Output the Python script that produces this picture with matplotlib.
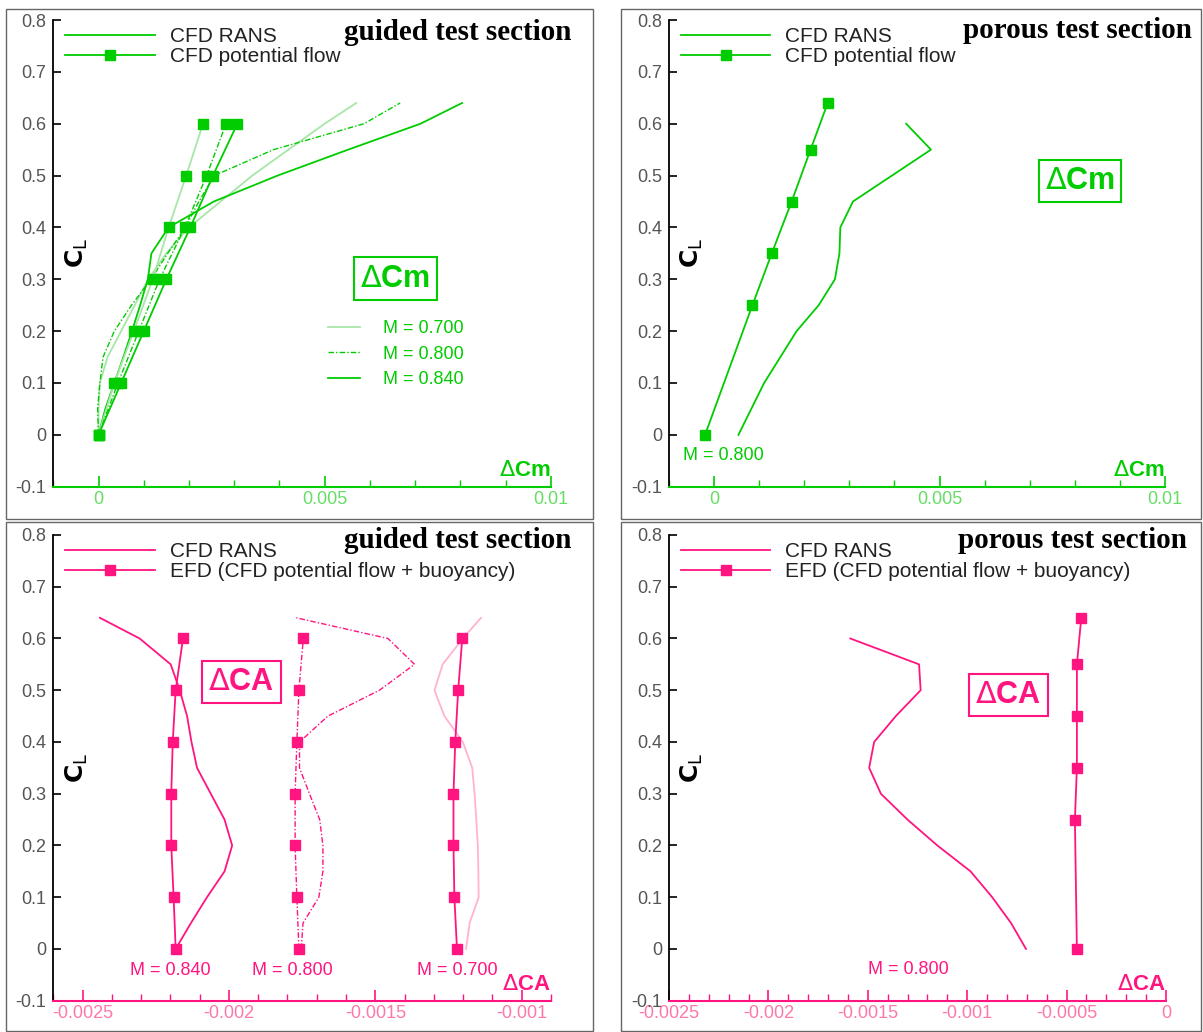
import matplotlib.pyplot as plt
from matplotlib.patches import Rectangle
from matplotlib.lines import Line2D
from matplotlib.ticker import MultipleLocator, FuncFormatter

plt.rcParams['font.family'] = ['Liberation Sans', 'DejaVu Sans']
plt.rcParams['mathtext.fontset'] = 'dejavusans'

GREEN = '#00cc00'
GREEN_LIGHT = '#a8e6a8'
PINK = '#ff1480'
PINK_LIGHT = '#ffb3d1'
DASHDOT = (0, (4, 1.5, 1, 1.5))

# --- guided test section, delta Cm ---
cl_pot = [0, 0.1, 0.2, 0.3, 0.4, 0.5, 0.6]
dcm_pot_070 = [0, 0.00035, 0.00078, 0.0012, 0.00155, 0.00194, 0.00231]
dcm_pot_080 = [0, 0.00043, 0.00089, 0.00135, 0.00191, 0.00239, 0.00282]
dcm_pot_084 = [0, 0.0005, 0.001, 0.0015, 0.00203, 0.00253, 0.00307]

cl_rans = [0, 0.05, 0.1, 0.15, 0.2, 0.25, 0.3, 0.35, 0.4, 0.45, 0.5, 0.55, 0.6, 0.64]
dcm_rans_070 = [0, 0, 0.00003, 0.0002, 0.0005, 0.0008, 0.0011, 0.0015, 0.002, 0.0027,
                0.0034, 0.0042, 0.005, 0.0057]
dcm_rans_080 = [0, -0.00002, 0.00003, 0.0001, 0.00035, 0.00073, 0.00116, 0.00153, 0.00192,
                0.00222, 0.00256, 0.00387, 0.00587, 0.00667]
dcm_rans_084 = [0, 0.00015, 0.00035, 0.00055, 0.00074, 0.00092, 0.00109, 0.00117, 0.00155,
                0.00255, 0.00396, 0.00552, 0.00712, 0.00804]

# --- porous test section, delta Cm (M = 0.800) ---
cl_pot_p = [0, 0.25, 0.35, 0.45, 0.55, 0.64]
dcm_pot_p = [-0.0002, 0.00085, 0.00128, 0.00172, 0.00214, 0.00252]
cl_rans_p = [0, 0.1, 0.2, 0.25, 0.3, 0.35, 0.4, 0.45, 0.55, 0.6]
dcm_rans_p = [0.00054, 0.00111, 0.00183, 0.00232, 0.00268, 0.00278, 0.0028, 0.00308,
              0.00481, 0.00426]

# --- guided test section, delta CA ---
dca_efd_084 = [-0.002182, -0.002189, -0.002197, -0.002197, -0.002192, -0.002182, -0.002157]
dca_efd_080 = [-0.001761, -0.001768, -0.001774, -0.001774, -0.001768, -0.001761, -0.001746]
dca_efd_070 = [-0.001221, -0.00123, -0.001233, -0.001233, -0.001227, -0.001217, -0.001203]
dca_rans_084 = [-0.002182, -0.00213, -0.002075, -0.002015, -0.001989, -0.002015, -0.002062,
                -0.002109, -0.002128, -0.002143, -0.002168, -0.002199, -0.002305, -0.002441]
dca_rans_080 = [-0.001753, -0.001747, -0.001693, -0.001679, -0.001679, -0.00169, -0.001725,
                -0.001759, -0.001759, -0.001662, -0.001486, -0.001366, -0.001457, -0.00177]
dca_rans_070 = [-0.00119, -0.001178, -0.001147, -0.001148, -0.00115, -0.001155, -0.001161,
                -0.001169, -0.001201, -0.001264, -0.001298, -0.00127, -0.001201, -0.001139]

# --- porous test section, delta CA (M = 0.800) ---
dca_efd_p = [-0.000448, -0.000458, -0.000448, -0.000448, -0.000448, -0.000426]
cl_rans_pa = [0, 0.05, 0.1, 0.15, 0.2, 0.25, 0.3, 0.35, 0.4, 0.45, 0.5, 0.55, 0.6]
dca_rans_p = [-0.000704, -0.000779, -0.000874, -0.000983, -0.00115, -0.0013, -0.001434,
              -0.001493, -0.001468, -0.001359, -0.001234, -0.001242, -0.001588]


def fmt(v, pos):
    return f'{round(v, 6) + 0:g}'


def setup(ax, xlim, major, minor, color, labelcolor, xlabel):
    ax.set_xlim(xlim)
    ax.set_ylim(-0.1, 0.8)
    ax.spines['top'].set_visible(False)
    ax.spines['right'].set_visible(False)
    ax.spines['left'].set_color('black')
    ax.spines['left'].set_linewidth(1.3)
    ax.spines['bottom'].set_color(color)
    ax.spines['bottom'].set_linewidth(1.5)
    ax.yaxis.set_major_locator(MultipleLocator(0.1))
    ax.xaxis.set_major_locator(MultipleLocator(major))
    ax.xaxis.set_minor_locator(MultipleLocator(minor))
    ax.xaxis.set_major_formatter(FuncFormatter(fmt))
    ax.yaxis.set_major_formatter(FuncFormatter(fmt))
    ax.tick_params(axis='y', direction='in', length=6, width=1.2, color='black',
                   labelcolor='#555555', labelsize=13, pad=5)
    ax.tick_params(axis='x', which='major', direction='in', length=8, width=1.2,
                   color=color, labelcolor=labelcolor, labelsize=13, pad=3)
    ax.tick_params(axis='x', which='minor', direction='in', length=5, width=1, color=color)
    ax.text(1.0, 0.012, xlabel, transform=ax.transAxes, ha='right', va='bottom',
            color=color, fontsize=16, fontweight='bold')
    ax.text(0.047, 0.5, r'$\mathbf{C}_{\mathsf{L}}$', transform=ax.transAxes, rotation=90,
            ha='center', va='center', fontsize=18, color='black')


def box_label(ax, x, y, s, color):
    ax.text(x, y, s, transform=ax.transAxes, ha='center', va='center', color=color,
            fontsize=22, fontweight='bold',
            bbox=dict(boxstyle='square,pad=0.2', fc='white', ec=color, lw=1.5))


def main_legend(ax, color, labels):
    handles = [Line2D([], [], color=color, lw=1.3),
               Line2D([], [], color=color, lw=1.3, marker='s', ms=7.5)]
    leg = ax.legend(handles, labels, loc='upper left', bbox_to_anchor=(0.024, 0.985),
                    frameon=False, fontsize=15, handlelength=4.3, handletextpad=0.72,
                    labelspacing=0.05, borderpad=0, numpoints=1, borderaxespad=0)
    for t in leg.get_texts():
        t.set_color('#222222')
    return leg


fig = plt.figure(figsize=(12.03, 10.32), dpi=100)

# panel frames
for x0, y0, w, h in [(6, 9, 587, 510), (621, 9, 580, 510), (6, 522, 587, 509), (621, 522, 580, 509)]:
    fig.add_artist(Rectangle((x0 / 1203, 1 - (y0 + h) / 1032), w / 1203, h / 1032,
                             transform=fig.transFigure, fill=False, ec='#666666', lw=1))

ax_tl = fig.add_axes([0.0443, 0.5284, 0.4135, 0.4522])
ax_tr = fig.add_axes([0.5561, 0.5284, 0.4123, 0.4522])
ax_bl = fig.add_axes([0.0443, 0.0303, 0.4137, 0.4513])
ax_br = fig.add_axes([0.5561, 0.0303, 0.4131, 0.4513])
for a in (ax_tl, ax_tr, ax_bl, ax_br):
    a.patch.set_alpha(0)

# top left: guided, delta Cm
ax = ax_tl
setup(ax, (-0.001, 0.01), 0.005, 0.001, GREEN, '#66dd66', r'$\Delta$Cm')
ax.plot(dcm_rans_070, cl_rans, color=GREEN_LIGHT, lw=1.3)
ax.plot(dcm_rans_080, cl_rans, color=GREEN, lw=1.0, ls=DASHDOT)
ax.plot(dcm_rans_084, cl_rans, color=GREEN, lw=1.3)
ax.plot(dcm_pot_070, cl_pot, color=GREEN_LIGHT, lw=1.3, marker='s', ms=7.5, mfc=GREEN, mec=GREEN)
ax.plot(dcm_pot_080, cl_pot, color=GREEN, lw=1.0, ls=DASHDOT, marker='s', ms=7.5)
ax.plot(dcm_pot_084, cl_pot, color=GREEN, lw=1.3, marker='s', ms=7.5)
leg = main_legend(ax, GREEN, ['CFD RANS', 'CFD potential flow'])
ax.add_artist(leg)
mh = [Line2D([], [], color=GREEN_LIGHT, lw=1.3),
      Line2D([], [], color=GREEN, lw=1.0, ls=DASHDOT),
      Line2D([], [], color=GREEN, lw=1.3)]
leg2 = ax.legend(mh, ['M = 0.700', 'M = 0.800', 'M = 0.840'], loc='upper left',
                 bbox_to_anchor=(0.553, 0.357), frameon=False, fontsize=13,
                 handlelength=1.75, handletextpad=1.25, labelspacing=0.48,
                 borderpad=0, borderaxespad=0)
for t in leg2.get_texts():
    t.set_color(GREEN)
box_label(ax, 0.688, 0.446, r'$\Delta$Cm', GREEN)

# top right: porous, delta Cm
ax = ax_tr
setup(ax, (-0.001, 0.01), 0.005, 0.001, GREEN, '#66dd66', r'$\Delta$Cm')
ax.plot(dcm_rans_p, cl_rans_p, color=GREEN, lw=1.3)
ax.plot(dcm_pot_p, cl_pot_p, color=GREEN, lw=1.3, marker='s', ms=7.5)
main_legend(ax, GREEN, ['CFD RANS', 'CFD potential flow'])
box_label(ax, 0.829, 0.655, r'$\Delta$Cm', GREEN)
ax.text(0.028, 0.066, 'M = 0.800', transform=ax.transAxes, ha='left', va='center',
        color=GREEN, fontsize=13)

# bottom left: guided, delta CA
ax = ax_bl
setup(ax, (-0.0026, -0.0009), 0.0005, 0.0001, PINK, '#ff77aa', r'$\Delta$CA')
ax.plot(dca_rans_084, cl_rans, color=PINK, lw=1.3)
ax.plot(dca_rans_080, cl_rans, color=PINK, lw=1.0, ls=DASHDOT)
ax.plot(dca_rans_070, cl_rans, color=PINK_LIGHT, lw=1.3)
ax.plot(dca_efd_084, cl_pot, color=PINK, lw=1.3, marker='s', ms=7.5)
ax.plot(dca_efd_080, cl_pot, color=PINK, lw=1.0, ls=DASHDOT, marker='s', ms=7.5)
ax.plot(dca_efd_070, cl_pot, color=PINK, lw=1.3, marker='s', ms=7.5)
main_legend(ax, PINK, ['CFD RANS', 'EFD (CFD potential flow + buoyancy)'])
box_label(ax, 0.378, 0.684, r'$\Delta$CA', PINK)
for xm, lab in [(0.2345, 'M = 0.840'), (0.481, 'M = 0.800'), (0.811, 'M = 0.700')]:
    ax.text(xm, 0.064, lab, transform=ax.transAxes, ha='center', va='center',
            color=PINK, fontsize=13)

# bottom right: porous, delta CA
ax = ax_br
setup(ax, (-0.0025, 0), 0.0005, 0.0001, PINK, '#ff77aa', r'$\Delta$CA')
ax.plot(dca_rans_p, cl_rans_pa, color=PINK, lw=1.3)
ax.plot(dca_efd_p, cl_pot_p, color=PINK, lw=1.3, marker='s', ms=7.5)
main_legend(ax, PINK, ['CFD RANS', 'EFD (CFD potential flow + buoyancy)'])
box_label(ax, 0.683, 0.656, r'$\Delta$CA', PINK)
ax.text(0.481, 0.066, 'M = 0.800', transform=ax.transAxes, ha='center', va='center',
        color=PINK, fontsize=13)

# section titles
for x, y, s in [(572, 32, 'guided test section'), (1192, 31, 'porous test section'),
                (572, 540, 'guided test section'), (1187, 540, 'porous test section')]:
    fig.text(x / 1203, 1 - y / 1032, s, ha='right', va='center', fontsize=21,
             fontweight='bold', family='Liberation Serif', color='black')

fig.savefig('out.png', dpi=100)
